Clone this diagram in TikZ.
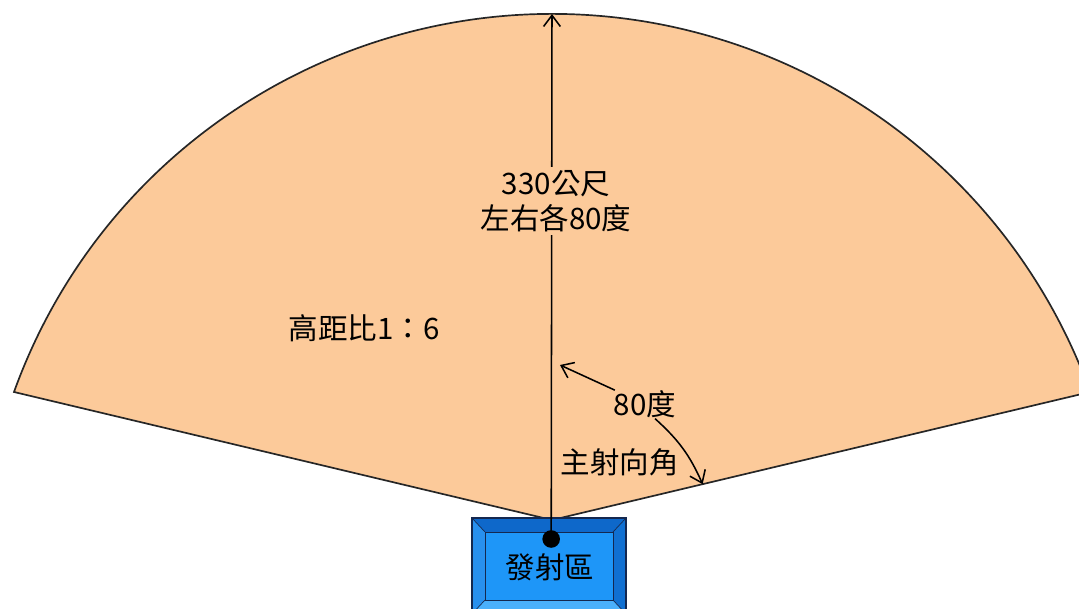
\documentclass[tikz,border=0pt]{standalone}
\usepackage{fontspec}
\setmainfont{Noto Sans CJK TC}
\usepackage{tikz}
\usetikzlibrary{calc,arrows.meta}
\definecolor{fanpeach}{RGB}{252,202,154}
\definecolor{boxface}{RGB}{30,150,248}
\definecolor{bevtop}{RGB}{14,104,202}
\definecolor{bevright}{RGB}{16,112,210}
\definecolor{bevleft}{RGB}{40,144,238}
\definecolor{bevbottom}{RGB}{74,176,252}
\definecolor{boxline}{RGB}{20,40,80}

\begin{document}
\begin{tikzpicture}[font=\fontsize{21}{25}\selectfont,
  lbl/.style={inner sep=2pt, fill=fanpeach, align=center},
  barb/.style={-{Straight Barb[length=0.28cm,width=0.42cm]}, line width=1.1pt}]
\clip (-13.8,-2.2) rectangle (13.175,13.0);
% fan
\coordinate (O) at (0,0);
\coordinate (L) at (-13.45,3.2);
\coordinate (R) at (13.45,3.2);
\coordinate (top) at (0,12.65);
\filldraw [fill=fanpeach, draw=black!85, line width=1.2pt] (O)--(L) arc [start angle=160.17, end angle=19.83, radius=14.3]--cycle;
% transmitter box
\fill [bevtop] (-2.0,0.05)--(1.85,0.05)--(1.525,-0.3)--(-1.675,-0.3)--cycle;
\fill [bevleft] (-2.0,0.05)--(-1.675,-0.3)--(-1.675,-2.0)--(-2.0,-2.35)--cycle;
\fill [bevright] (1.85,0.05)--(1.525,-0.3)--(1.525,-2.0)--(1.85,-2.35)--cycle;
\fill [bevbottom] (-2.0,-2.35)--(-1.675,-2.0)--(1.525,-2.0)--(1.85,-2.35)--cycle;
\draw [boxline, line width=0.8pt] (-2.0,0.05) rectangle (1.85,-2.35);
\draw [boxline, line width=0.5pt, fill=boxface] (-1.675,-0.3) rectangle (1.525,-2.0);
\draw [boxline, line width=0.5pt] (-2.0,0.05)--(-1.675,-0.3) (1.85,0.05)--(1.525,-0.3) (-2.0,-2.35)--(-1.675,-2.0) (1.85,-2.35)--(1.525,-2.0);
\node (box) at (-0.05,-1.175) {發射區};
% main axis
\node [circle, fill=black, inner sep=0pt, minimum size=0.44cm] (src) at (-0.02,-0.475) {};
\draw [barb] (src.center)--(top);
\node [lbl] (range) at (0.1,7.975) {330公尺\\左右各80度};
\node [fill=fanpeach, inner sep=2pt] (ratio) at (-4.7,4.8) {高距比1：6};
\node (deg) at (2.325,2.9) {80度};
\node (mainang) at (1.7,1.45) {主射向角};
% angle arrows
\coordinate (axishit) at (0.2,3.875);
\coordinate (edgehit) at ($(O)!0.28!(R)$);
\draw [barb] ($(deg.north west)+(0.15,-0.12)$)--(axishit);
\draw [barb] ($(deg.south)+(0.25,0.1)$) to [bend left=12] (edgehit);
\end{tikzpicture}
\end{document}
